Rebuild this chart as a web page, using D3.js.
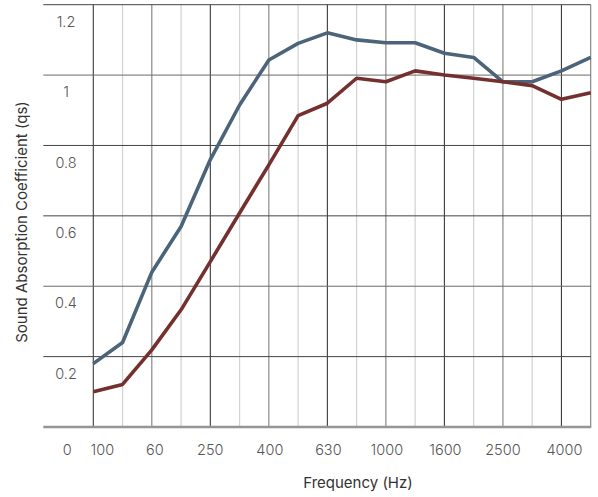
<!DOCTYPE html>
<html>
<head>
<meta charset="utf-8">
<script src="https://cdn.jsdelivr.net/npm/d3@7/dist/d3.min.js"></script>
<style>
  html, body { margin: 0; padding: 0; background: #fff; }
  svg { display: block; }
</style>
</head>
<body>
<svg id="chart" width="598" height="497"></svg>
<script>
// ---- data ----
const frequencies = [100, 125, 160, 200, 250, 315, 400, 500, 630, 800, 1000, 1250, 1600, 2000, 2500, 3150, 4000, 5000];
const seriesBlue = [0.18, 0.24, 0.44, 0.57, 0.76, 0.915, 1.043, 1.09, 1.12, 1.10, 1.092, 1.092, 1.062, 1.05, 0.981, 0.981, 1.012, 1.05];
const seriesRed  = [0.10, 0.121, 0.219, 0.333, 0.47, 0.608, 0.745, 0.885, 0.92, 0.991, 0.981, 1.012, 1.0, 0.991, 0.981, 0.97, 0.931, 0.95];
const yTickValues = [0.2, 0.4, 0.6, 0.8, 1, 1.2];
const yTickLabels = ["0.2", "0.4", "0.6", "0.8", "1", "1.2"];
const xTickLabels = ["0", "100", "60", "250", "400", "630", "1000", "1600", "2500", "4000"];
const xTickFreqs  = [null, 100, 160, 250, 400, 630, 1000, 1600, 2500, 4000];
const xTitle = "Frequency (Hz)";
const yTitle = "Sound Absorption Coefficient (qs)";

// ---- layout ----
const svg = d3.select("#chart");
const plotLeft = 43.3, plotRight = 590.7, plotTop = 4.7, plotBottom = 427;

const x = d3.scalePoint().domain(frequencies).range([93.3, plotRight]);
const y = d3.scaleLinear().domain([0, 1.2]).range([plotBottom, plotTop]);

const FONT = "Inter, 'Liberation Sans', sans-serif";

// vertical grid
svg.append("g").selectAll("line")
  .data(frequencies)
  .join("line")
  .attr("x1", d => x(d)).attr("x2", d => x(d))
  .attr("y1", plotTop).attr("y2", plotBottom)
  .attr("stroke", (d, i) => (i % 2 === 1 && i !== frequencies.length - 1) ? "#d2d2d2" : (i % 4 === 0 ? "#3a3a3a" : "#7e7e7e"))
  .attr("stroke-width", (d, i) => (i % 2 === 1 && i !== frequencies.length - 1) ? 1.2 : 1.1);

// horizontal grid
svg.append("g").selectAll("line")
  .data(yTickValues)
  .join("line")
  .attr("x1", plotLeft).attr("x2", plotRight)
  .attr("y1", d => y(d)).attr("y2", d => y(d))
  .attr("stroke", (d, i) => (i === 1 || i === 4) ? "#6a6a6a" : "#444")
  .attr("stroke-width", 1);

// bottom axis line
svg.append("line")
  .attr("x1", plotLeft).attr("x2", plotRight + 0.5)
  .attr("y1", y(0)).attr("y2", y(0))
  .attr("stroke", "#959595")
  .attr("stroke-width", 2.5);

// y tick labels (placed below their grid line)
svg.append("g").selectAll("text")
  .data(yTickValues)
  .join("text")
  .attr("x", 66)
  .attr("y", d => y(d) + 17)
  .attr("dy", "0.35em")
  .attr("text-anchor", "middle")
  .attr("font-family", FONT)
  .attr("font-size", 14.5)
  .attr("font-weight", 300)
  .attr("fill", "#555")
  .text((d, i) => yTickLabels[i]);

// x tick labels
const xNudge = [0, 9, 3, 0, 1, 1, 1, 1, 0, 3];
svg.append("g").selectAll("text")
  .data(xTickLabels)
  .join("text")
  .attr("x", (d, i) => xTickFreqs[i] === null ? x(frequencies[0]) - 26 : x(xTickFreqs[i]) + xNudge[i])
  .attr("y", 450)
  .attr("dy", "0.35em")
  .attr("text-anchor", "middle")
  .attr("font-family", FONT)
  .attr("font-size", 14.5)
  .attr("font-weight", 300)
  .attr("fill", "#555")
  .text(d => d);

// lines
const line = d3.line().x((d, i) => x(frequencies[i])).y(d => y(d));
svg.append("path")
  .datum(seriesBlue)
  .attr("d", line)
  .attr("fill", "none")
  .attr("stroke", "#4b6479")
  .attr("stroke-width", 3.6)
  .attr("stroke-linejoin", "round");
svg.append("path")
  .datum(seriesRed)
  .attr("d", line)
  .attr("fill", "none")
  .attr("stroke", "#74302e")
  .attr("stroke-width", 3.6)
  .attr("stroke-linejoin", "round");

// axis titles
svg.append("text")
  .attr("x", 358)
  .attr("y", 483)
  .attr("dy", "0.35em")
  .attr("text-anchor", "middle")
  .attr("font-family", FONT)
  .attr("font-size", 15)
  .attr("font-weight", 400)
  .attr("fill", "#333")
  .text(xTitle);

svg.append("text")
  .attr("transform", "translate(22,222) rotate(-90)")
  .attr("dy", "0.35em")
  .attr("text-anchor", "middle")
  .attr("font-family", FONT)
  .attr("font-size", 15)
  .attr("font-weight", 400)
  .attr("fill", "#333")
  .text(yTitle);
</script>
</body>
</html>
